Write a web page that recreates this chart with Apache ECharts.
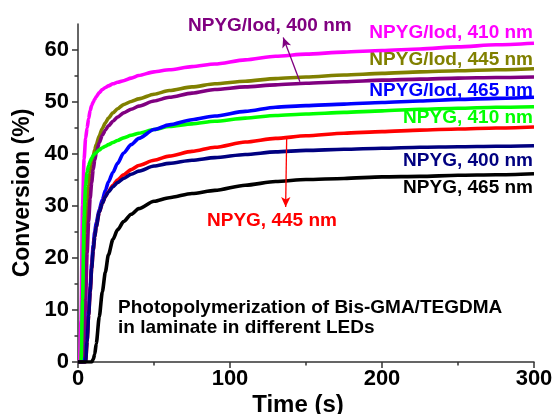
<!DOCTYPE html>
<html>
<head>
<meta charset="utf-8">
<script src="https://cdn.jsdelivr.net/npm/echarts@6/dist/echarts.min.js"></script>
<style>
  html, body { margin: 0; padding: 0; background: #fff; }
  #chart { width: 555px; height: 414px; }
</style>
</head>
<body>
<div id="chart"></div>
<script>
// Irradiation time (s)
const timeS = [0, 1, 2, 3, 4, 5, 6, 7, 8, 9, 10, 11, 12, 14, 16, 18, 20, 23, 26, 30, 35, 40, 50, 60, 75, 90, 110, 130, 150, 175, 200, 225, 250, 275, 300];

// Conversion (%) for each photoinitiating system / LED
const iod410 = [0, 0, 8, 30, 39, 43, 45, 46.8, 48.4, 49.3, 50, 50.5, 51, 51.8, 52.4, 52.8, 53.1, 53.5, 53.8, 54.1, 54.6, 55.1, 55.8, 56.2, 56.8, 57.3, 58.1, 58.8, 59.2, 59.6, 59.9, 60.2, 60.6, 61.0, 61.3];
const iod445 = [0, 0, 0, 5, 17, 25, 30.5, 34, 36.5, 38.2, 39.6, 40.8, 41.8, 43.5, 44.9, 46, 46.9, 47.9, 48.7, 49.5, 50.1, 50.6, 51.5, 52.2, 52.9, 53.5, 54, 54.5, 54.8, 55.2, 55.5, 55.8, 56, 56.2, 56.4];
const iod400 = [0, 0, 0, 0, 3, 12, 21, 27, 31.5, 34.5, 37, 38.8, 40.2, 42.2, 43.6, 44.6, 45.4, 46.3, 47.1, 47.9, 48.6, 49.2, 50.2, 50.9, 51.7, 52.4, 52.9, 53.3, 53.6, 53.9, 54.2, 54.4, 54.6, 54.7, 54.8];
const npyg410 = [0, 0, 0, 12, 28, 34, 36.5, 37.8, 38.6, 39.2, 39.7, 40, 40.3, 40.8, 41.2, 41.5, 41.8, 42.2, 42.6, 43.1, 43.6, 44, 44.7, 45.3, 45.8, 46.3, 46.9, 47.4, 47.7, 48, 48.3, 48.6, 48.8, 49, 49.1];
const iod465 = [0, 0, 0, 0, 0, 1, 5, 10, 14.5, 19, 22.5, 25, 26.8, 29.3, 31.2, 33, 34.6, 36.5, 38.2, 40.2, 41.8, 43, 44.7, 45.6, 46.6, 47.3, 48.2, 49, 49.3, 49.6, 49.9, 50.2, 50.5, 50.7, 50.9];
const npyg445 = [0, 0, 0, 0, 0, 0, 4, 9, 13.5, 18, 21.5, 24, 26, 28.8, 30.5, 31.8, 32.8, 34, 35, 36, 37, 37.8, 38.8, 39.6, 40.5, 41.3, 42.3, 43, 43.5, 44, 44.3, 44.6, 44.8, 45, 45.2];
const npyg400 = [0, 0, 0, 0, 0, 0, 4, 9, 13.5, 18, 21.5, 24, 26, 28.8, 30.5, 31.8, 32.7, 33.7, 34.5, 35.3, 36.1, 36.7, 37.7, 38.2, 38.8, 39.3, 39.9, 40.4, 40.7, 40.9, 41.1, 41.3, 41.4, 41.5, 41.6];
const npyg465 = [0, 0, 0, 0, 0, 0, 0, 0, 0, 0, 0.5, 1.5, 3.5, 8.7, 13.5, 17.3, 20.6, 23.6, 25.4, 27, 28.4, 29.5, 30.9, 31.6, 32.4, 33, 34, 34.7, 35.1, 35.3, 35.6, 35.7, 35.9, 36, 36.2];

// Axis ticks
const xTicks = [0, 100, 200, 300];
const yTicks = [0, 10, 20, 30, 40, 50, 60];

// Arrow end points [time, conversion]
const arrowIod400 = [[146, 53.9], [135, 62.4]];
const arrowNpyg445 = [[137.3, 43.3], [136.6, 29.8]];

const FONT = '"Liberation Sans", Arial, Helvetica, sans-serif';

const seriesDefs = [
  { name: 'NPYG/Iod, 410 nm', data: iod410, color: '#ff00ff' },
  { name: 'NPYG/Iod, 445 nm', data: iod445, color: '#808000' },
  { name: 'NPYG/Iod, 400 nm', data: iod400, color: '#800080', arrow: arrowIod400 },
  { name: 'NPYG, 410 nm', data: npyg410, color: '#00ff00' },
  { name: 'NPYG/Iod, 465 nm', data: iod465, color: '#0000ff' },
  { name: 'NPYG, 445 nm', data: npyg445, color: '#ff0000', arrow: arrowNpyg445 },
  { name: 'NPYG, 400 nm', data: npyg400, color: '#000080' },
  { name: 'NPYG, 465 nm', data: npyg465, color: '#000000' }
];

const series = seriesDefs.map(function (s) {
  const item = {
    name: s.name,
    type: 'line',
    data: timeS.map(function (t, i) { return [t, s.data[i]]; }),
    showSymbol: false,
    smooth: 0.25,
    smoothMonotone: 'x',
    lineStyle: { color: s.color, width: 3.6 },
    itemStyle: { color: s.color },
    emphasis: { disabled: true },
    silent: true,
    animation: false
  };
  if (s.arrow) {
    item.markLine = {
      silent: true,
      symbol: ['none', 'arrow'],
      symbolSize: [7, 10],
      label: { show: false },
      lineStyle: { color: s.color, width: 1.3, type: 'solid' },
      data: [[{ coord: s.arrow[0] }, { coord: s.arrow[1] }]],
      animation: false
    };
  }
  return item;
});

// Curve labels
const labelFont = 'bold 19px ' + FONT;
function label(text, color, x, y, align) {
  return {
    type: 'text',
    x: x, y: y,
    style: {
      text: text, fill: color, font: labelFont,
      textAlign: align, textVerticalAlign: 'middle'
    },
    z: 1
  };
}

const graphics = [
  label('NPYG/Iod, 400 nm', '#800080', 188, 25.5, 'left'),
  label('NPYG/Iod, 410 nm', '#ff00ff', 533, 32.5, 'right'),
  label('NPYG/Iod, 445 nm', '#808000', 533, 59.5, 'right'),
  label('NPYG/Iod, 465 nm', '#0000ff', 533, 90.5, 'right'),
  label('NPYG, 410 nm', '#00ff00', 533, 117.5, 'right'),
  label('NPYG, 400 nm', '#000080', 533, 160.5, 'right'),
  label('NPYG, 465 nm', '#000000', 533, 187.5, 'right'),
  label('NPYG, 445 nm', '#ff0000', 207, 220.5, 'left'),
  label('Photopolymerization of Bis-GMA/TEGDMA', '#000000', 118, 307.5, 'left'),
  label('in laminate in different LEDs', '#000000', 118, 327.5, 'left')
];

const axisLineStyle = { color: '#333', width: 1.5 };

const option = {
  backgroundColor: '#ffffff',
  animation: false,
  grid: { left: 78, right: 21, top: 24, bottom: 52, containLabel: false, outerBoundsMode: 'none' },
  xAxis: {
    type: 'value',
    min: 0, max: 300, interval: 100,
    name: 'Time (s)',
    nameLocation: 'middle',
    nameGap: 31,
    nameMoveOverlap: false,
    nameTextStyle: { fontFamily: FONT, fontWeight: 'bold', fontSize: 24, color: '#000', padding: [0, 16, 0, 0] },
    axisLine: { show: true, lineStyle: axisLineStyle },
    axisTick: { show: true, inside: false, length: 6, lineStyle: axisLineStyle, customValues: xTicks },
    minorTick: { show: true, splitNumber: 2, length: 3.5, lineStyle: axisLineStyle },
    axisLabel: { fontFamily: FONT, fontWeight: 'bold', fontSize: 22, color: '#000', margin: 6, customValues: xTicks },
    splitLine: { show: false },
    minorSplitLine: { show: false }
  },
  yAxis: {
    type: 'value',
    min: 0, max: 65, interval: 10,
    name: 'Conversion (%)',
    nameLocation: 'middle',
    nameGap: 44,
    nameMoveOverlap: false,
    nameTextStyle: { fontFamily: FONT, fontWeight: 'bold', fontSize: 23, color: '#000' },
    axisLine: { show: true, lineStyle: axisLineStyle },
    axisTick: { show: true, inside: false, length: 6, lineStyle: axisLineStyle, customValues: yTicks },
    minorTick: { show: true, splitNumber: 2, length: 3.5, lineStyle: axisLineStyle },
    axisLabel: { fontFamily: FONT, fontWeight: 'bold', fontSize: 22, color: '#000', margin: 9, customValues: yTicks },
    splitLine: { show: false },
    minorSplitLine: { show: false }
  },
  series: series,
  graphic: graphics
};

const chart = echarts.init(document.getElementById('chart'), null, { renderer: 'canvas' });
chart.setOption(option);
</script>
</body>
</html>
